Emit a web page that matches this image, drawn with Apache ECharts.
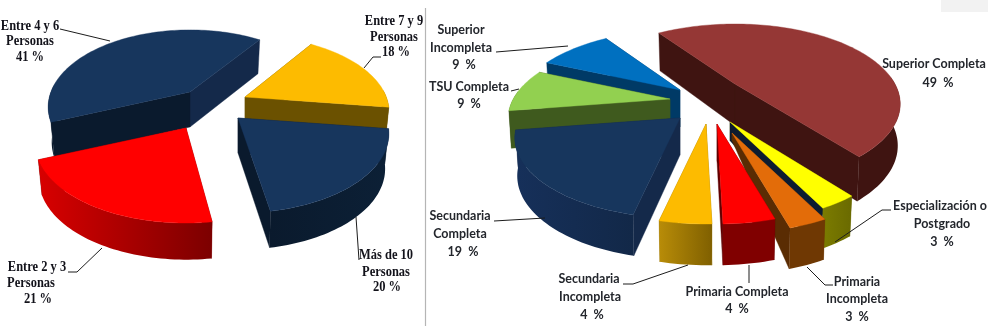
<!DOCTYPE html>
<html>
<head>
<meta charset="utf-8">
<style>
html,body{margin:0;padding:0;background:#fff}
#c{width:988px;height:326px;filter:blur(0.45px)}
</style>
<script src="https://cdn.jsdelivr.net/npm/echarts@6/dist/echarts.min.js"></script>
</head>
<body>
<div id="c"></div>
<script>
// ---- data (clockwise from the start angle) ----
const leftCategories = ['Entre 7 y 9 Personas', 'Más de 10 Personas', 'Entre 2 y 3 Personas', 'Entre 4 y 6 Personas'];
const leftValues = [18, 20, 21, 41];
const rightCategories = ['Superior Completa', 'Especialización o Postgrado', 'Primaria Incompleta', 'Primaria Completa', 'Secundaria Incompleta', 'Secundaria Completa', 'TSU Completa', 'Superior Incompleta'];
const rightValues = [49, 3, 3, 4, 4, 19, 9, 9];

// ---- layout of the two pies (separate from the data) ----
const leftPie = {
  start: 57, rx: 148, ry: 76.5, k: 0.195, depth: 35, shrink: 0.975,
  tips: [[245, 97], [238, 118], [186, 128], [190, 92]],
  tipDepth: [1, 1, 1, 1],
  rimDepth: [1, 1, 1, 1],
  sliceScale: [0.955, 1, 1, 0.97],
  sliceScaleX: [0.955, 1, 1, 0.94],
  sliceRot: [0, 0, -2, -2.5],
  drawOrder: [3, 0, 1, 2],
  top: ['#fdbb00', '#17365d', '#ff0000', '#17365d'],
  wallStart: ['#6b5100', '#0e2038', '#7f0000', '#0a1a2d'],
  wallEnd: ['#6b5100', '#0a1a2d', '#7f0000', '#14294a'],
  rim: [['#6b5100', '#6b5100'], ['#0a1a2d', '#0c2036'], ['#d80000', '#7c0000'], ['#0a1a2d', '#0a1a2d']]
};
const rightPie = {
  start: 124, rx: 160, ry: 75, k: 0.25, depth: 37, shrink: 0.985,
  tips: [[735, 84], [730, 122], [732, 133], [717, 124], [706, 124], [680, 118], [670, 99], [680, 90]],
  tipDepth: [1.12, 0.5, 0.2, 1, 1, 1, 1, 1],
  rimDepth: [1.1, 1, 1, 1, 1, 1, 1, 1],
  sliceScale: [1, 1, 1, 1, 1, 1, 0.98, 1],
  sliceScaleX: [1, 1, 1, 1, 1, 1, 0.98, 1],
  sliceRot: [1, 0, 0, 0, 0, 0, 0, 0],
  drawOrder: [7, 6, 5, 0, 1, 2, 4, 3],
  top: ['#953735', '#ffff00', '#e36c09', '#ff0000', '#fdbb00', '#17365d', '#92d050', '#0070c0'],
  wallStart: ['#3f1411', '#6a6a00', '#6b3603', '#600000', '#9a7400', '#14294a', '#3f5a1e', '#003a66'],
  wallEnd: ['#3f1411', '#0d1c30', '#5a2c03', '#600000', '#9a7400', '#14294a', '#3f5a1e', '#003a66'],
  rim: [['#3f1411', '#3f1411'], ['#7c7c00', '#6a6a00'], ['#6f3803', '#6f3803'], ['#800000', '#800000'], ['#b88c08', '#806000'], ['#16305a', '#122848'], ['#3f5a1e', '#3f5a1e'], ['#003a66', '#003a66']]
};

// ---- labels and leaders ----
const leftLabels = [
  ['Entre 4 y 6', 30, 26], ['Personas', 30, 41], ['41 %', 30, 57],
  ['Entre 7 y 9', 394, 21], ['Personas', 394, 37], ['18 %', 396, 52],
  ['Más de 10', 386, 255], ['Personas', 386, 272], ['20 %', 387, 287],
  ['Entre 2 y 3', 37, 267], ['Personas', 31, 283], ['21 %', 38, 299]
];
const rightLabels = [
  ['Superior', 461, 30], ['Incompleta', 461, 48], ['9  %', 464, 65],
  ['TSU Completa', 469, 87], ['9  %', 469, 104],
  ['Secundaria', 460, 216], ['Completa', 460, 234], ['19  %', 463, 252],
  ['Secundaria', 589, 279], ['Incompleta', 590, 297], ['4  %', 592, 315],
  ['Primaria Completa', 737, 292], ['4  %', 737, 309],
  ['Primaria', 857, 282], ['Incompleta', 857, 299], ['3  %', 857, 317],
  ['Especialización o', 940, 206], ['Postgrado', 942, 224], ['3  %', 942, 242],
  ['Superior Completa', 934, 64], ['49  %', 938, 83]
];
const leaders = [
  [[60, 29], [110, 41]],
  [[381, 57], [373, 57], [364, 68]],
  [[359, 260], [356, 217]],
  [[68, 272], [77, 272], [102, 248]],
  [[496, 52], [568, 46]],
  [[511, 91], [519, 89]],
  [[494, 221], [545, 218]],
  [[623, 284], [633, 284], [688, 265]],
  [[749, 265], [749, 283]],
  [[807, 267], [825, 285], [833, 285]],
  [[835, 242], [882, 210], [891, 210]]
];

// ---- 3D wedge geometry, driven by each value's share of the total ----
function sliceAngles(values, start) {
  const total = values.reduce((a, b) => a + b, 0);
  let cur = start;
  return values.map(v => {
    const from = cur;
    cur -= v / total * 360;
    return [from, cur];
  });
}
function rimPoint(pie, tip, deg, sx, sy, ds) {
  const t = deg * Math.PI / 180, u = Math.cos(t), v = Math.sin(t), w = 1 + pie.k * v;
  return { x: tip[0] + sx * pie.rx * u / w, y: tip[1] - sy * pie.ry * v / w, d: ds * pie.depth * Math.sqrt(1 / w), front: v < 0.12 };
}
function wedgeSeries(pie, values, categories) {
  const angles = sliceAngles(values, pie.start);
  return {
    type: 'custom',
    coordinateSystem: 'none',
    silent: true,
    animation: false,
    clip: false,
    data: pie.drawOrder.map(i => ({ name: categories[i], value: [i, values[i]] })),
    renderItem(params, api) {
      const i = api.value(0);
      const tip = pie.tips[i];
      const from = angles[i][0] + pie.sliceRot[i], to = angles[i][1] + pie.sliceRot[i];
      const steps = Math.max(3, Math.ceil((from - to) / 1.5));
      const arc = [];
      for (let s = 0; s <= steps; s++) arc.push(rimPoint(pie, tip, from + (to - from) * s / steps, pie.sliceScaleX[i], pie.sliceScale[i], pie.rimDepth[i]));
      const lower = p => [tip[0] + (p.x - tip[0]) * pie.shrink, p.y + p.d + (tip[1] - p.y) * (1 - pie.shrink)];
      const tipLow = [tip[0], tip[1] + pie.depth * pie.tipDepth[i]];
      const a = arc[0], b = arc[arc.length - 1];
      const wallA = { pts: [[tip[0], tip[1]], tipLow, lower(a), [a.x, a.y]], fill: pie.wallStart[i], y: a.y };
      const wallB = { pts: [[tip[0], tip[1]], tipLow, lower(b), [b.x, b.y]], fill: pie.wallEnd[i], y: b.y };
      const walls = wallA.y < wallB.y ? [wallA, wallB] : [wallB, wallA];
      const poly = (points, fill) => ({
        type: 'polygon', shape: { points },
        style: { fill, stroke: typeof fill === 'string' ? fill : null, lineWidth: typeof fill === 'string' ? 0.4 : 0 }
      });
      const frontArc = arc.filter(p => p.front);
      const children = [poly(walls[0].pts, walls[0].fill), poly(walls[1].pts, walls[1].fill)];
      if (frontArc.length > 1) {
        const rimPts = frontArc.map(p => [p.x, p.y]).concat(frontArc.slice().reverse().map(lower));
        children.push(poly(rimPts, new echarts.graphic.LinearGradient(0, 0, 1, 0, [
          { offset: 0, color: pie.rim[i][0] }, { offset: 1, color: pie.rim[i][1] }
        ])));
      }
      children.push(poly([[tip[0], tip[1]]].concat(arc.map(p => [p.x, p.y])), pie.top[i]));
      return { type: 'group', children };
    }
  };
}

const textEl = (font, fill, sx) => ([t, x, y]) => ({
  type: 'text', x, y, scaleX: sx, silent: true,
  style: { text: t, font, fill, textAlign: 'center', textVerticalAlign: 'middle' }
});
const graphics = [
  { type: 'rect', silent: true, shape: { x: 941, y: 0, width: 47, height: 12 }, style: { fill: '#f2f2f2' } },
  { type: 'line', silent: true, shape: { x1: 425.5, y1: 8, x2: 425.5, y2: 326 }, style: { stroke: '#b5b5b5', lineWidth: 1.2 } }
]
  .concat(leaders.map(points => ({
    type: 'polyline', silent: true, z: 20, shape: { points },
    style: { stroke: '#1c1c1c', lineWidth: 1, fill: null }
  })))
  .concat(leftLabels.map(textEl('bold 14.5px "Liberation Serif"', '#12121a', 0.86)))
  .concat(rightLabels.map(textEl('bold 13px Lato', '#23262c', 0.96)));

const chart = echarts.init(document.getElementById('c'), null, { renderer: 'canvas' });
chart.setOption({
  animation: false,
  backgroundColor: '#fff',
  graphic: { elements: graphics.map(g => Object.assign({ z: 20 }, g)) },
  series: [
    wedgeSeries(leftPie, leftValues, leftCategories),
    wedgeSeries(rightPie, rightValues, rightCategories)
  ]
});
</script>
</body>
</html>
